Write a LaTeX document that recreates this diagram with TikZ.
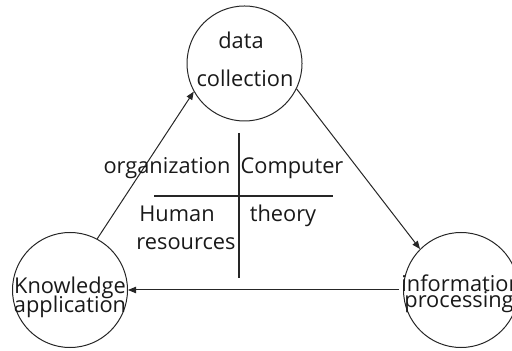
\documentclass[tikz,border=0pt]{standalone}
\usepackage{fontspec}
\setmainfont{Open Sans}
\usetikzlibrary{arrows.meta}
\begin{document}
\begin{tikzpicture}[x=0.5pt,y=-0.5pt,
  circ/.style={draw=black!85,line width=0.5pt,circle,minimum size=57.5pt,inner sep=0pt},
  lbl/.style={inner sep=0pt,font=\fontsize{10.9pt}{13pt}\selectfont,text=black!90},
  conn/.style={draw=black!85,line width=0.5pt,-{Triangle[length=4pt,width=3.2pt]}},
  rule/.style={draw=black!85,line width=0.6pt}]
\useasboundingbox (0,0) rectangle (512,351);
\node[circ] (top) at (244.5,63.5) {};
\node[circ] (left) at (70,290) {};
\node[circ] (right) at (461,290) {};
\node[lbl] (t1) at (241,40) {data};
\node[lbl] (t2) at (245,78) {collection};
\node[lbl] (l1) at (70,288) {Knowledge};
\node[lbl] (l2) at (70,307) {application};
\node[lbl,anchor=west] (r1) at (401,283) {information};
\node[lbl,anchor=west] (r2) at (404,302) {processing};
\draw[conn] (left.62) -- (top.209);
\draw[conn] (top.334) -- (right.135);
\draw[conn] (right.west) ++(-4,0) coordinate (rs) (rs) -- (left.east);
\coordinate (vt) at (239,133);
\coordinate (vb) at (239,278);
\coordinate (hl) at (154,196);
\coordinate (hr) at (333,196);
\draw[rule] (vt) -- (vb);
\draw[rule] (hl) -- (hr);
\node[lbl] (o) at (167,168) {organization};
\node[lbl] (c) at (292,168) {Computer};
\node[lbl,anchor=west] (h) at (139,214) {Human};
\node[lbl,anchor=east] (rs2) at (236,244) {resources};
\node[lbl] (th) at (283,216) {theory};
\end{tikzpicture}
\end{document}
